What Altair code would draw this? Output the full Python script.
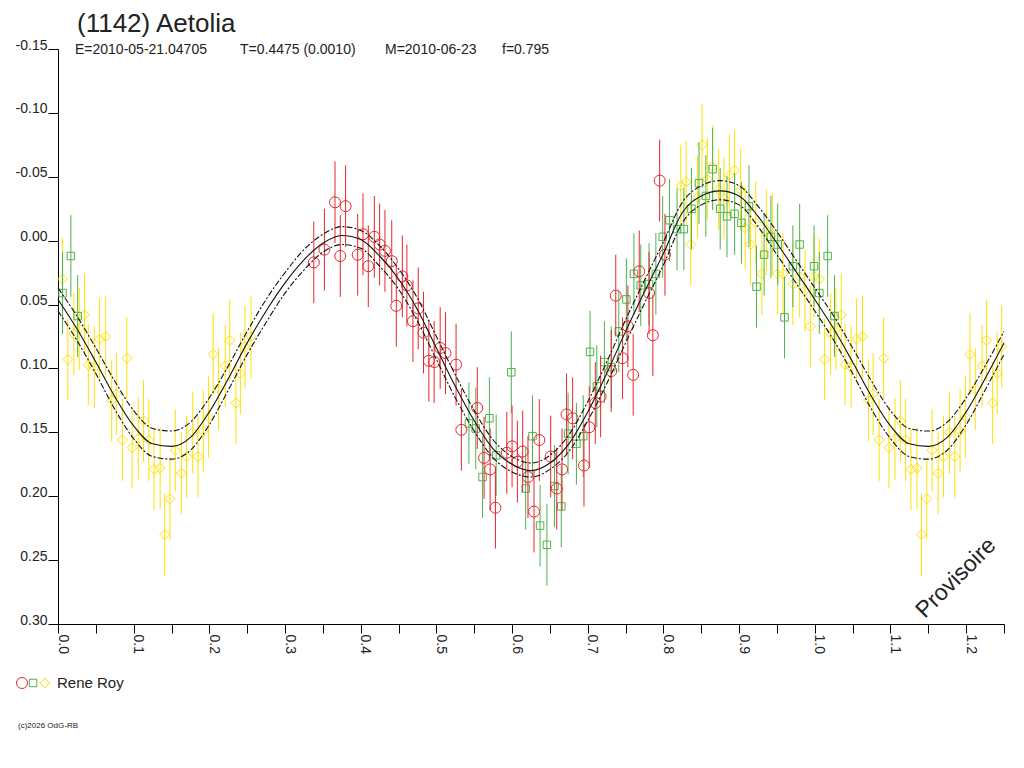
import altair as alt
import pandas as pd

# ---------------- data ----------------
red_phase = [0.338, 0.352, 0.366, 0.380, 0.373, 0.396, 0.403, 0.410, 0.418, 0.425,
             0.432, 0.441, 0.447, 0.455, 0.461, 0.469, 0.476, 0.483, 0.490, 0.497,
             0.505, 0.512, 0.526, 0.533, 0.554, 0.563, 0.571, 0.578, 0.593, 0.600,
             0.607, 0.614, 0.621, 0.629, 0.636, 0.651, 0.659, 0.666, 0.672, 0.680,
             0.695, 0.702, 0.710, 0.717, 0.731, 0.737, 0.746, 0.753, 0.760, 0.768,
             0.781, 0.786, 0.795, 0.802]
red_mag = [0.017, 0.007, -0.030, -0.027, 0.012, 0.011, -0.005, 0.020, -0.003, 0.003,
           0.008, 0.016, 0.051, 0.028, 0.035, 0.063, 0.053, 0.072, 0.094, 0.095,
           0.084, 0.088, 0.097, 0.148, 0.131, 0.170, 0.179, 0.209, 0.166, 0.161,
           0.173, 0.165, 0.185, 0.212, 0.156, 0.169, 0.194, 0.179, 0.136, 0.139,
           0.176, 0.146, 0.127, 0.122, 0.102, 0.043, 0.092, 0.067, 0.105, 0.024,
           0.041, 0.074, -0.047, 0.011]

green_phase = [0.006, 0.017, 0.026, 0.543, 0.552, 0.561, 0.570, 0.579, 0.599, 0.618,
               0.627, 0.637, 0.646, 0.656, 0.665, 0.674, 0.685, 0.694, 0.703, 0.712,
               0.722, 0.731, 0.741, 0.751, 0.761, 0.770, 0.781, 0.790, 0.799, 0.808,
               0.818, 0.827, 0.837, 0.847, 0.856, 0.865, 0.875, 0.884, 0.894, 0.903,
               0.913, 0.923, 0.933, 0.942, 0.951, 0.960, 0.971, 0.980, 0.999]
green_mag = [0.041, 0.012, 0.059, 0.143, 0.147, 0.185, 0.139, 0.168, 0.103, 0.194,
             0.153, 0.223, 0.238, 0.192, 0.208, 0.151, 0.159, 0.153, 0.087, 0.114,
             0.095, 0.099, 0.071, 0.046, 0.026, 0.035, 0.034, 0.026, -0.003, -0.016,
             -0.009, -0.009, -0.025, -0.045, -0.035, -0.056, -0.025, -0.019, -0.021, -0.014,
             -0.027, 0.036, 0.011, -0.003, 0.003, 0.060, 0.020, 0.003, 0.020]

yellow_phase = [0.006, 0.013, 0.021, 0.028, 0.035, 0.040, 0.048, 0.055, 0.063, 0.071,
                0.077, 0.085, 0.091, 0.098, 0.106, 0.113, 0.120, 0.127, 0.135, 0.141,
                0.148, 0.155, 0.163, 0.170, 0.178, 0.185, 0.192, 0.199, 0.205, 0.212,
                0.221, 0.227, 0.235, 0.241, 0.247, 0.255,
                0.823, 0.830, 0.836, 0.845, 0.851, 0.858, 0.865, 0.873, 0.880, 0.887,
                0.894, 0.902, 0.908, 0.915, 0.922, 0.930, 0.936, 0.944, 0.951, 0.958,
                0.971, 0.980, 0.987, 0.994, 0.999]
yellow_mag = [0.030, 0.093, 0.073, 0.069, 0.058, 0.097, 0.099, 0.077, 0.075, 0.125,
              0.120, 0.156, 0.092, 0.162, 0.155, 0.141, 0.156, 0.179, 0.178, 0.230,
              0.202, 0.164, 0.182, 0.169, 0.150, 0.169, 0.149, 0.138, 0.089, 0.116,
              0.098, 0.078, 0.127, 0.104, 0.083, 0.075,
              -0.043, -0.046, 0.003, -0.034, -0.075, -0.048, -0.058, -0.040, -0.033, -0.051,
              -0.055, -0.040, -0.010, 0.003, -0.014, 0.026, -0.008, -0.005, 0.026, 0.026,
              0.034, 0.028, 0.039, 0.067, 0.028]

ERR = 0.032  # half length of the error bars

# fitted curve and its envelope, every 0.025 in phase from 0.0 to 1.0
fit_mid = [0.046, 0.069, 0.095, 0.122, 0.145, 0.159, 0.161, 0.154, 0.134, 0.108,
           0.080, 0.055, 0.033, 0.015, 0.002, -0.004, -0.001, 0.012, 0.030, 0.054,
           0.084, 0.114, 0.141, 0.163, 0.175, 0.180, 0.174, 0.159, 0.134, 0.104,
           0.071, 0.040, 0.010, -0.022, -0.035, -0.039, -0.035, -0.019, 0.002, 0.024,
           0.046]
fit_upper = [0.037, 0.059, 0.084, 0.110, 0.133, 0.147, 0.149, 0.142, 0.123, 0.098,
             0.071, 0.046, 0.025, 0.007, -0.005, -0.011, -0.008, 0.004, 0.022, 0.045,
             0.075, 0.105, 0.133, 0.156, 0.169, 0.174, 0.168, 0.152, 0.126, 0.095,
             0.062, 0.031, 0.001, -0.030, -0.043, -0.047, -0.043, -0.027, -0.007, 0.015,
             0.037]
fit_lower = [0.055, 0.078, 0.104, 0.132, 0.155, 0.169, 0.171, 0.164, 0.144, 0.117,
             0.089, 0.064, 0.041, 0.023, 0.009, 0.003, 0.006, 0.020, 0.038, 0.063,
             0.093, 0.123, 0.149, 0.170, 0.181, 0.185, 0.179, 0.165, 0.141, 0.112,
             0.080, 0.049, 0.019, -0.014, -0.028, -0.032, -0.028, -0.011, 0.011, 0.033,
             0.055]

x_ticks = [round(i * 0.05, 2) for i in range(26)]
y_ticks = [-0.15, -0.10, -0.05, 0.00, 0.05, 0.10, 0.15, 0.20, 0.25, 0.30]

title_text = "(1142) Aetolia"
sub_texts = ["E=2010-05-21.04705", "T=0.4475 (0.0010)", "M=2010-06-23", "f=0.795"]
legend_text = "Rene Roy"
copyright_text = "(c)2026 OdG-RB"
stamp_text = "Provisoire"

RED, GREEN, YELLOW = "#e8262d", "#4db34a", "#ffe000"
FONT = "Liberation Sans"


# ---------------- frames ----------------
def obs_frame(ph, mg):
    df = pd.DataFrame({"phase": ph, "mag": mg})
    ext = df[df["phase"] <= 0.25].copy()
    ext["phase"] = ext["phase"] + 1.0
    df = pd.concat([df, ext], ignore_index=True)
    df["lo"] = df["mag"] - ERR
    df["hi"] = df["mag"] + ERR
    return df


red_df = obs_frame(red_phase, red_mag)
green_df = obs_frame(green_phase, green_mag)
yellow_df = obs_frame(yellow_phase, yellow_mag)

fit_phase = [round(i * 0.025, 3) for i in range(len(fit_mid))]
ext_n = 11  # phases 1.0 .. 1.25 repeat 0.0 .. 0.25
fit_df = pd.DataFrame({
    "phase": fit_phase + [round(1 + p, 3) for p in fit_phase[1:ext_n]],
    "mid": fit_mid + fit_mid[1:ext_n],
    "up": fit_upper + fit_upper[1:ext_n],
    "low": fit_lower + fit_lower[1:ext_n],
})

xs = alt.Scale(domain=[0, 1.25], nice=False, zero=False)
ys = alt.Scale(domain=[-0.15, 0.30], reverse=True, nice=False, zero=False)

x_axis = alt.Axis(
    values=x_ticks, title=None, grid=False,
    labelExpr="(round(datum.value*100) % 10 == 0) ? format(datum.value, '.1f') : ''",
    labelAngle=90, labelAlign="left", labelBaseline="alphabetic",
    tickSize=9, labelPadding=1, labelFlush=False, labelOverlap=False,
)
y_axis = alt.Axis(
    values=y_ticks, title=None, grid=False,
    labelExpr="replace(format(datum.value, '.2f'), '\u2212', '-')",
    labelAlign="right", labelBaseline="alphabetic",
    tickSize=10, labelPadding=1, labelFlush=False, labelOverlap=False,
)


def X():
    return alt.X("phase:Q", scale=xs, axis=x_axis)


def Y(field):
    return alt.Y(field + ":Q", scale=ys, axis=y_axis)


def series(df, color, shape, size):
    bars = alt.Chart(df).mark_rule(color=color, strokeWidth=1).encode(
        x=X(), y=Y("lo"), y2="hi:Q",
    )
    pts = alt.Chart(df).mark_point(
        shape=shape, size=size, filled=False, color=color, strokeWidth=1, opacity=1
    ).encode(x=X(), y=Y("mag"))
    return bars + pts


yellow_layer = series(yellow_df, YELLOW, "diamond", 100)
green_layer = series(green_df, GREEN, "square", 56)
red_layer = series(red_df, RED, "circle", 121)

base_fit = alt.Chart(fit_df)
mid_line = base_fit.mark_line(color="#111111", strokeWidth=1.1, interpolate="monotone").encode(
    x=X(), y=Y("mid"))
up_line = base_fit.mark_line(color="#111111", strokeWidth=1.1, interpolate="monotone",
                             strokeDash=[6, 2, 2, 2]).encode(x=X(), y=Y("up"))
low_line = base_fit.mark_line(color="#111111", strokeWidth=1.1, interpolate="monotone",
                              strokeDash=[6, 2, 2, 2]).encode(x=X(), y=Y("low"))

one = pd.DataFrame({"k": [0]})


def label(text, x, y, size, **kw):
    return alt.Chart(one).mark_text(text=text, font=FONT, fontSize=size, color="#222222",
                                    align=kw.pop("align", "left"),
                                    baseline=kw.pop("baseline", "alphabetic"), **kw).encode(
        x=alt.value(x), y=alt.value(y))


texts = [
    label(title_text, 19, -17, 26),
    label(sub_texts[0], 17, 5, 14),
    label(sub_texts[1], 182, 5, 14),
    label(sub_texts[2], 327, 5, 14),
    label(sub_texts[3], 444, 5, 14),
    label(legend_text, -1, 634, 15, baseline="middle"),
    label(copyright_text, -40, 679, 8),
    label(stamp_text, 898, 529, 23, align="center", baseline="middle", angle=315),
]


def legend_sym(shape, color, size, x):
    return alt.Chart(one).mark_point(shape=shape, size=size, filled=False, color=color,
                                     strokeWidth=1, opacity=1).encode(
        x=alt.value(x), y=alt.value(634))


legend = [
    legend_sym("circle", RED, 121, -36),
    legend_sym("square", GREEN, 56, -25),
    legend_sym("diamond", YELLOW, 100, -13),
]

chart = alt.layer(
    yellow_layer, green_layer, red_layer, low_line, up_line, mid_line, *texts, *legend
).properties(
    width=946, height=575,
    autosize=alt.AutoSizeParams(type="none"),
    padding={"left": 50, "top": 41, "right": 12, "bottom": 110},
    background="white",
).configure_view(stroke=None).configure_axis(
    labelFont=FONT, labelFontSize=14, labelColor="#222222",
    domainColor="#000000", tickColor="#000000", domainWidth=1, tickWidth=1,
)

chart.save("out.html", embed_options={"renderer": "svg", "actions": False})
